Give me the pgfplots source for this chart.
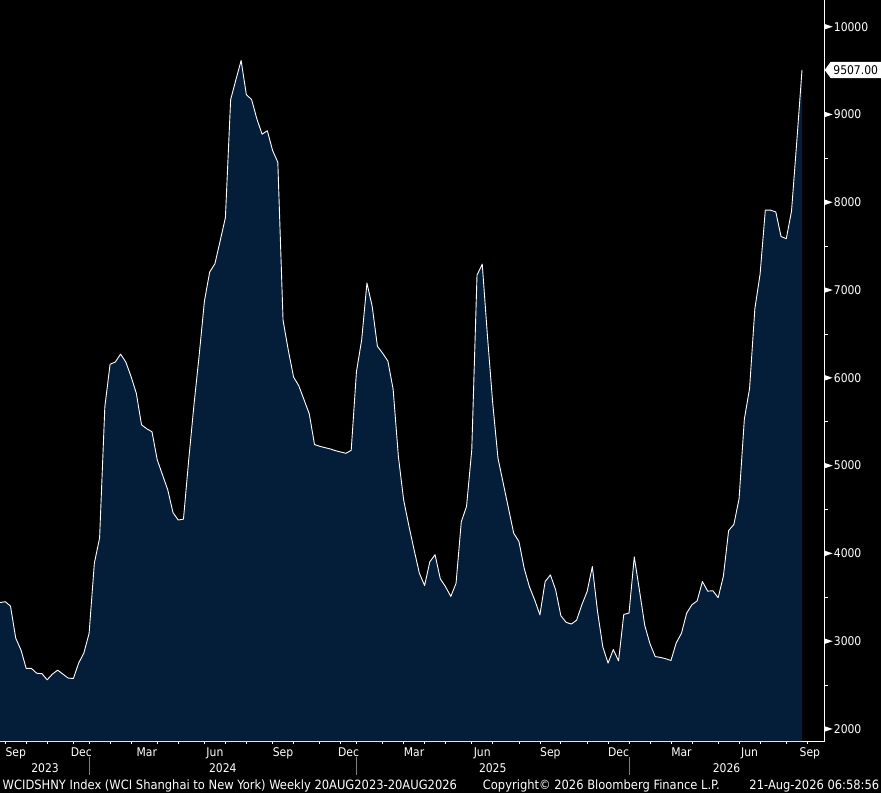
\documentclass[border=0pt]{standalone}
\usepackage{pgfplots}
\pgfplotsset{compat=1.18}
\usepackage{pgfplotstable}
\usepackage{fontspec}
\setmainfont{DejaVu Sans Condensed}
\definecolor{navy}{RGB}{4,30,58}
\definecolor{divgrey}{RGB}{128,128,128}
\newcommand\lbl{\fontsize{12}{14}\selectfont}
\newcommand\ftr{\fontsize{12.8}{14}\selectfont}

\pgfplotstableread[row sep=\\]{
i v\\
1 3440\\ 2 3450\\ 3 3400\\ 4 3035\\ 5 2900\\ 6 2690\\ 7 2690\\ 8 2635\\ 9 2630\\ 10 2560\\
11 2625\\ 12 2670\\ 13 2625\\ 14 2580\\ 15 2575\\ 16 2750\\ 17 2865\\ 18 3090\\ 19 3890\\ 20 4175\\
21 5670\\ 22 6155\\ 23 6180\\ 24 6270\\ 25 6180\\ 26 6015\\ 27 5825\\ 28 5465\\ 29 5420\\ 30 5385\\
31 5065\\ 32 4895\\ 33 4725\\ 34 4465\\ 35 4380\\ 36 4390\\ 37 5065\\ 38 5690\\ 39 6260\\ 40 6875\\
41 7205\\ 42 7300\\ 43 7560\\ 44 7825\\ 45 9170\\ 46 9395\\ 47 9615\\ 48 9225\\ 49 9170\\ 50 8950\\
51 8775\\ 52 8815\\ 53 8590\\ 54 8455\\ 55 6655\\ 56 6315\\ 57 6010\\ 58 5910\\ 59 5750\\ 60 5590\\
61 5240\\ 62 5220\\ 63 5205\\ 64 5190\\ 65 5170\\ 66 5155\\ 67 5140\\ 68 5175\\ 69 6070\\ 70 6435\\
71 7080\\ 72 6815\\ 73 6360\\ 74 6280\\ 75 6190\\ 76 5870\\ 77 5105\\ 78 4610\\ 79 4315\\ 80 4040\\
81 3775\\ 82 3635\\ 83 3905\\ 84 3985\\ 85 3710\\ 86 3620\\ 87 3510\\ 88 3660\\ 89 4360\\ 90 4535\\
91 5180\\ 92 7170\\ 93 7295\\ 94 6470\\ 95 5710\\ 96 5085\\ 97 4800\\ 98 4515\\ 99 4230\\ 100 4135\\
101 3830\\ 102 3620\\ 103 3470\\ 104 3300\\ 105 3680\\ 106 3755\\ 107 3585\\ 108 3290\\ 109 3215\\ 110 3195\\
111 3240\\ 112 3415\\ 113 3565\\ 114 3850\\ 115 3335\\ 116 2935\\ 117 2750\\ 118 2905\\ 119 2775\\ 120 3305\\
121 3320\\ 122 3960\\ 123 3575\\ 124 3180\\ 125 2970\\ 126 2825\\ 127 2815\\ 128 2800\\ 129 2780\\ 130 2980\\
131 3090\\ 132 3320\\ 133 3415\\ 134 3460\\ 135 3680\\ 136 3570\\ 137 3575\\ 138 3495\\ 139 3740\\ 140 4260\\
141 4330\\ 142 4625\\ 143 5530\\ 144 5880\\ 145 6785\\ 146 7180\\ 147 7910\\ 148 7910\\ 149 7890\\ 150 7610\\
151 7585\\ 152 7900\\ 153 8690\\ 154 9507\\
}\wcidata

\begin{document}
\begin{tikzpicture}[x=1pt,y=1pt]
\fill[black] (0,-52) rectangle (881,741);
\useasboundingbox (0,-52) rectangle (881,741);
\begin{axis}[
  at={(0,0)}, anchor=south west,
  scale only axis, width=824.7pt, height=741pt,
  xmin=1, xmax=158.33, ymin=1863, ymax=10304,
  axis x line*=bottom, axis y line*=right,
  axis line style={white, line width=1pt, -},
  clip mode=individual,
  xtick={2,6,10,15,18,22,26,31,35,40,44,48,53,57,62,66,69,74,78,82,86,91,95,100,104,108,113,117,121,125,129,133,138,142,146,151,155},
  xticklabels={},
  ytick={2000,3000,...,10000},
  minor ytick={2500,3500,...,9500},
  tick align=outside,
  major tick length=3pt, minor tick length=3pt,
  tick style={white, line width=0.8pt},
  scaled y ticks=false,
  yticklabel={\pgfmathtruncatemacro\tv{\tick}\tv},
  yticklabel style={anchor=west, inner sep=0pt, xshift=6pt, text=white, font=\lbl},
]
\addplot[fill=navy, draw=none] table[x=i,y=v]{\wcidata} \closedcycle;
\addplot[white, line width=0.9pt, line join=round] table[x=i,y=v]{\wcidata};

\pgfplotsinvokeforeach{2000,3000,4000,5000,6000,7000,8000,9000,10000}{
  \coordinate (yt#1) at (axis cs:158.33,#1);
}
\coordinate (vlast) at (axis cs:158.33,9507);

% month labels
\node[anchor=base, text=white, font=\lbl, yshift=-15pt] at (axis cs:4,1863) {Sep};
\node[anchor=base, text=white, font=\lbl, yshift=-15pt] at (axis cs:16.5,1863) {Dec};
\node[anchor=base, text=white, font=\lbl, yshift=-15pt] at (axis cs:29,1863) {Mar};
\node[anchor=base, text=white, font=\lbl, yshift=-15pt] at (axis cs:42,1863) {Jun};
\node[anchor=base, text=white, font=\lbl, yshift=-15pt] at (axis cs:55,1863) {Sep};
\node[anchor=base, text=white, font=\lbl, yshift=-15pt] at (axis cs:67.5,1863) {Dec};
\node[anchor=base, text=white, font=\lbl, yshift=-15pt] at (axis cs:80,1863) {Mar};
\node[anchor=base, text=white, font=\lbl, yshift=-15pt] at (axis cs:93,1863) {Jun};
\node[anchor=base, text=white, font=\lbl, yshift=-15pt] at (axis cs:106,1863) {Sep};
\node[anchor=base, text=white, font=\lbl, yshift=-15pt] at (axis cs:119,1863) {Dec};
\node[anchor=base, text=white, font=\lbl, yshift=-15pt] at (axis cs:131,1863) {Mar};
\node[anchor=base, text=white, font=\lbl, yshift=-15pt] at (axis cs:144,1863) {Jun};
\node[anchor=base, text=white, font=\lbl, yshift=-15pt] at (axis cs:155.5,1863) {Sep};
% year labels
\node[anchor=base, text=white, font=\lbl, yshift=-31.3pt] at (axis cs:9.6,1863) {2023};
\node[anchor=base, text=white, font=\lbl, yshift=-31.3pt] at (axis cs:43.5,1863) {2024};
\node[anchor=base, text=white, font=\lbl, yshift=-31.3pt] at (axis cs:95,1863) {2025};
\node[anchor=base, text=white, font=\lbl, yshift=-31.3pt] at (axis cs:139.6,1863) {2026};
% year dividers
\coordinate (d1) at (axis cs:18,1863);
\coordinate (d2) at (axis cs:69,1863);
\coordinate (d3) at (axis cs:121,1863);
\end{axis}
\foreach \d in {d1,d2,d3} {\draw[divgrey, line width=1pt] (\d) ++(0,-16) -- ++(0,-18);}
\foreach \v in {2000,3000,4000,5000,6000,7000,8000,9000,10000} {
  \fill[white] (yt\v) ++(0,2.7) -- ++(8,-2.7) -- ++(-8,-2.7) -- cycle;
}
% current value box
\fill[white] (vlast) -- ++(6,8.2) -- ++(51,0) -- ++(0,-16.4) -- ++(-51,0) -- cycle;
\node[anchor=west, inner sep=0pt, text=black, font=\lbl] at ([xshift=8.5]vlast) {9507.00};

\node[anchor=base west, inner sep=0pt, text=white, font=\ftr] at (2.5,-48.3) {WCIDSHNY Index (WCI Shanghai to New York) Weekly 20AUG2023-20AUG2026};
\node[anchor=base west, inner sep=0pt, text=white, font=\ftr] at (482.7,-48.3) {Copyright© 2026 Bloomberg Finance L.P.};
\node[anchor=base east, inner sep=0pt, text=white, font=\ftr] at (879.5,-48.3) {21-Aug-2026 06:58:56};
\end{tikzpicture}
\end{document}
